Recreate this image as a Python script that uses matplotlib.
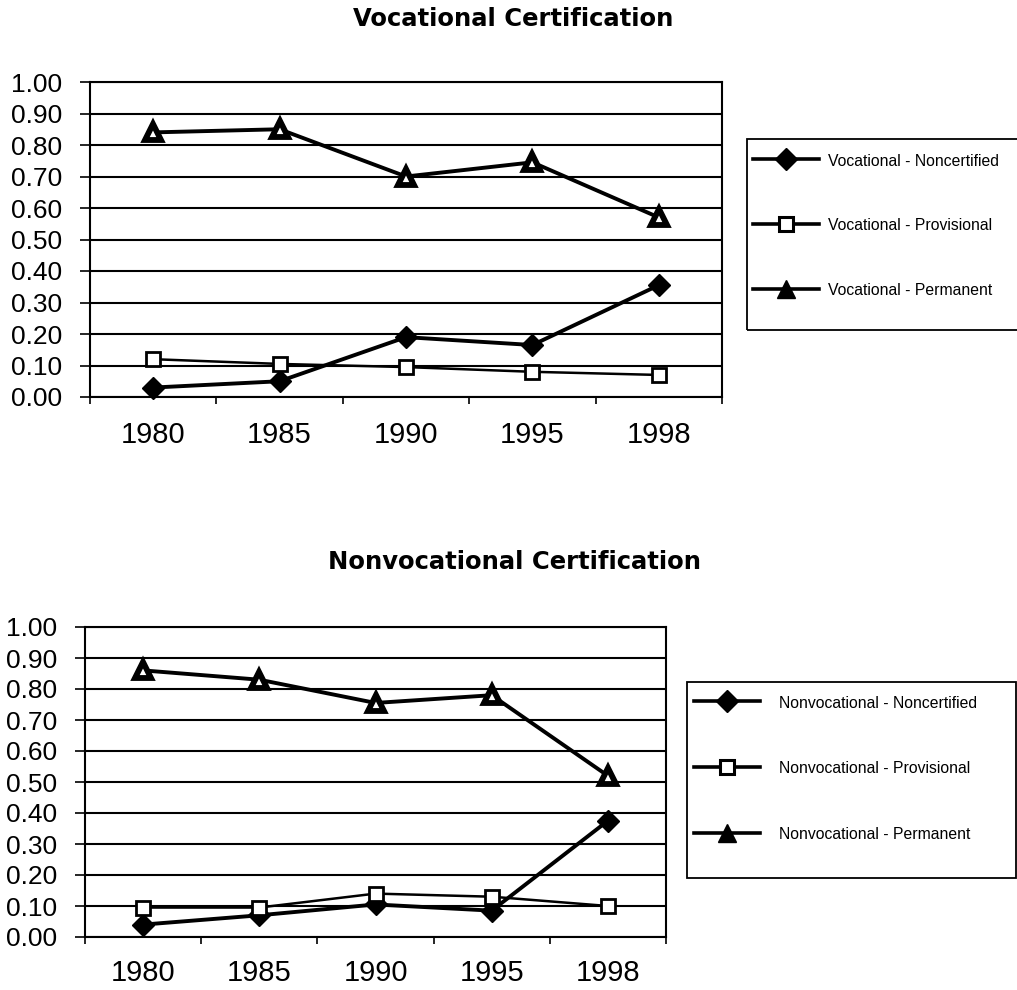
import matplotlib
matplotlib.use("Agg")
import matplotlib.pyplot as plt
from matplotlib.lines import Line2D
from matplotlib.patches import Rectangle
import numpy as np

plt.rcParams['font.family'] = ['Liberation Sans', 'DejaVu Sans']

years = ["1980", "1985", "1990", "1995", "1998"]
y_ticks = [0.0, 0.1, 0.2, 0.3, 0.4, 0.5, 0.6, 0.7, 0.8, 0.9, 1.0]

voc_noncertified = [0.03, 0.05, 0.19, 0.165, 0.355]
voc_provisional = [0.12, 0.105, 0.095, 0.08, 0.07]
voc_permanent = [0.84, 0.85, 0.70, 0.745, 0.57]

nonvoc_noncertified = [0.04, 0.07, 0.105, 0.085, 0.375]
nonvoc_provisional = [0.095, 0.095, 0.14, 0.13, 0.10]
nonvoc_permanent = [0.86, 0.83, 0.755, 0.78, 0.52]

W, H = 1017, 990
fig = plt.figure(figsize=(W / 100, H / 100), dpi=100)


def fx(px):
    return px / W


def fy(py):
    return 1 - py / H


def px_axes(x0, y0, x1, y1):
    return fig.add_axes([fx(x0), fy(y1), (x1 - x0) / W, (y1 - y0) / H])


def draw_panel(ax, title, title_xy, series, labels, box, handle_x, first_row,
               row_gap, xpad, text_pad):
    x = np.arange(len(years))
    styles = [
        dict(marker='D', ms=11, mfc='black', mec='black', lw=2.8),
        dict(marker='s', ms=10, mfc='white', mec='black', mew=2.0, lw=1.8),
        dict(marker='^', ms=12, mfc='white', mec='black', mew=4.2, lw=2.8),
    ]
    for vals, st in zip(series, styles):
        ax.plot(x, vals, color='black', zorder=3, clip_on=False, **st)

    ax.set_xlim(-0.5, len(years) - 0.5)
    ax.set_ylim(0, 1.0)
    ax.set_yticks(y_ticks)
    ax.set_yticklabels([f"{v:.2f}" for v in y_ticks], fontsize=19)
    ax.set_xticks(x)
    ax.set_xticklabels(years, fontsize=21)
    ax.set_xticks(np.arange(-0.5, len(years)), minor=True)
    ax.tick_params(axis='x', which='major', length=0, pad=xpad)
    ax.tick_params(axis='x', which='minor', length=5, width=1.2, direction='out')
    ax.tick_params(axis='y', length=7, width=1.2, direction='out', pad=13)
    ax.yaxis.grid(True, color='black', lw=1.5)
    ax.set_axisbelow(True)
    for sp in ax.spines.values():
        sp.set_linewidth(1.5)
        sp.set_color('black')

    fig.text(fx(title_xy[0]), fy(title_xy[1]), title, ha='center', va='center',
             fontsize=17.5, fontweight='bold', family='DejaVu Sans')

    # legend frame
    x0, y0, x1, y1 = box
    fig.patches.append(Rectangle((fx(x0), fy(y1)), (x1 - x0) / W, (y1 - y0) / H,
                                 transform=fig.transFigure, fill=False,
                                 edgecolor='black', lw=1.3))

    handles = [
        Line2D([], [], color='black', marker='D', ms=11, mfc='black', lw=2.6),
        Line2D([], [], color='black', marker='s', ms=10, mfc='white', mew=2.2, lw=2.6),
        Line2D([], [], color='black', marker='^', ms=13, mfc='black', lw=2.6),
    ]
    fs = 11.3
    fs_px = fs * 100 / 72
    row_h = fs_px * 1.0
    fig.legend(handles, labels, loc='upper left',
               bbox_to_anchor=(fx(handle_x), fy(first_row - row_h / 2)),
               borderaxespad=0, borderpad=0, fontsize=fs, handlelength=4.2,
               handleheight=1.0, labelspacing=(row_gap - row_h) / fs_px,
               handletextpad=text_pad, frameon=False)


ax1 = px_axes(90, 82, 722, 397)
draw_panel(ax1, "Vocational Certification", (513, 19),
           [voc_noncertified, voc_provisional, voc_permanent],
           ["Vocational - Noncertified", "Vocational - Provisional", "Vocational - Permanent"],
           (747, 139, 1030, 330), handle_x=753, first_row=161, row_gap=65,
           xpad=17, text_pad=0.6)

ax2 = px_axes(85, 627, 666, 937)
draw_panel(ax2, "Nonvocational Certification", (515, 562),
           [nonvoc_noncertified, nonvoc_provisional, nonvoc_permanent],
           ["Nonvocational - Noncertified", "Nonvocational - Provisional", "Nonvocational - Permanent"],
           (687, 682, 1016, 878), handle_x=694, first_row=703, row_gap=66,
           xpad=16, text_pad=1.2)

fig.savefig("out.png", dpi=100)
